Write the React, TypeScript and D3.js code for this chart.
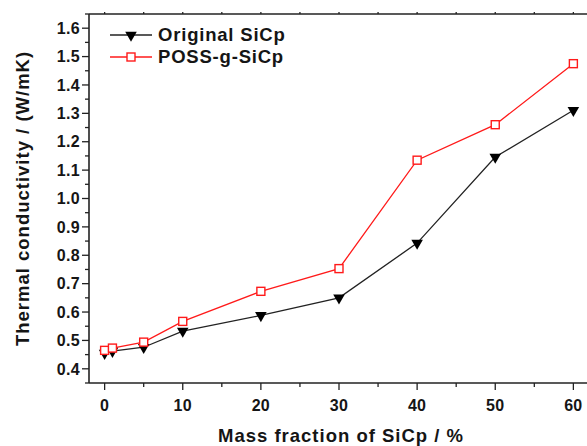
import React from "react";
import * as d3 from "d3";

const xValues = [0, 1, 5, 10, 20, 30, 40, 50, 60];
const originalSiCp = [0.455, 0.462, 0.476, 0.533, 0.588, 0.65, 0.843, 1.146, 1.311];
const possSiCp = [0.465, 0.473, 0.494, 0.567, 0.673, 0.753, 1.135, 1.26, 1.475];
const xTicks = [0, 10, 20, 30, 40, 50, 60];
const yTicks = [0.4, 0.5, 0.6, 0.7, 0.8, 0.9, 1.0, 1.1, 1.2, 1.3, 1.4, 1.5, 1.6];
const seriesNames = ["Original SiCp", "POSS-g-SiCp"];

const W = 587, H = 446;
const left = 89, top = 14, bottom = 383, right = 589;
const font = "Liberation Sans, Arial, sans-serif";
const textColor = "#151515";

export default function App() {
  const x = d3.scaleLinear().domain([-2, 62]).range([left, right]);
  const y = d3.scaleLinear().domain([0.35, 1.65]).range([bottom, top]);
  const line = d3.line<number>().x((_, i) => x(xValues[i])).y((d) => y(d));
  const tri = d3.symbol().type(d3.symbolTriangle).size(58)()!;
  const sq = 8;
  const xMinor = d3.range(0, 61, 5).filter((v) => v % 10 !== 0);
  const yMinor = d3.range(0.35, 1.66, 0.1).map((v) => Math.round(v * 100) / 100);

  return (
    <svg width={W} height={H} style={{ position: "absolute", left: 0, top: 0, background: "#fff" }}>
      {/* axes frame */}
      <g stroke="#222" strokeWidth={1.6} fill="none">
        <line x1={left} x2={left} y1={top} y2={bottom} />
        <line x1={left} x2={right} y1={bottom} y2={bottom} />
        <line x1={left} x2={right} y1={top} y2={top} />
        <line x1={right} x2={right} y1={top} y2={bottom} />
      </g>
      {/* ticks */}
      <g stroke="#222" strokeWidth={1.3}>
        {yTicks.map((t) => (
          <line key={"y" + t} x1={left - 7} x2={left} y1={y(t)} y2={y(t)} />
        ))}
        {yMinor.map((t) => (
          <line key={"ym" + t} x1={left - 4} x2={left} y1={y(t)} y2={y(t)} />
        ))}
        {xTicks.map((t) => (
          <line key={"x" + t} x1={x(t)} x2={x(t)} y1={bottom} y2={bottom + 7} />
        ))}
        {xMinor.map((t) => (
          <line key={"xm" + t} x1={x(t)} x2={x(t)} y1={bottom} y2={bottom + 4} />
        ))}
        {[...xTicks, ...xMinor].map((t) => (
          <line key={"xt" + t} x1={x(t)} x2={x(t)} y1={top} y2={top - 2} />
        ))}
      </g>
      <g fontFamily={font} fontWeight="bold" fontSize={16} fill={textColor} letterSpacing={0.3}>
        {yTicks.map((t) => (
          <text key={"yl" + t} x={left - 9} y={y(t)} dy="0.36em" textAnchor="end">
            {t.toFixed(1)}
          </text>
        ))}
        {xTicks.map((t) => (
          <text key={"xl" + t} x={x(t)} y={411} textAnchor="middle">
            {t}
          </text>
        ))}
      </g>
      <text x={341} y={442} textAnchor="middle" fontFamily={font} fontWeight="bold" fontSize={18.5} letterSpacing={1} fill={textColor}>
        Mass fraction of SiCp / %
      </text>
      <text
        transform={`translate(28.5,${(top + bottom) / 2}) rotate(-90)`}
        textAnchor="middle"
        fontFamily={font}
        fontWeight="bold"
        fontSize={18.5}
        letterSpacing={1}
        fill={textColor}
      >
        Thermal conductivity / (W/mK)
      </text>
      {/* series */}
      <path d={line(originalSiCp)!} fill="none" stroke="#222" strokeWidth={1.3} />
      <path d={line(possSiCp)!} fill="none" stroke="#ff1a1a" strokeWidth={1.3} />
      {originalSiCp.map((v, i) => (
        <path key={"o" + i} d={tri} transform={`translate(${x(xValues[i])},${y(v)}) rotate(180)`} fill="#000" />
      ))}
      {possSiCp.map((v, i) => (
        <rect
          key={"p" + i}
          x={x(xValues[i]) - sq / 2}
          y={y(v) - sq / 2}
          width={sq}
          height={sq}
          fill="#fff"
          stroke="#ff1a1a"
          strokeWidth={1.4}
        />
      ))}
      {/* legend */}
      <g>
        <line x1={110} x2={152} y1={35} y2={35} stroke="#222" strokeWidth={1.3} />
        <path d={tri} transform="translate(131,35) rotate(180)" fill="#000" />
        <line x1={110} x2={152} y1={57} y2={57} stroke="#ff1a1a" strokeWidth={1.3} />
        <rect x={127} y={53} width={8} height={8} fill="#fff" stroke="#ff1a1a" strokeWidth={1.4} />
        <g fontFamily={font} fontWeight="bold" fontSize={18.5} letterSpacing={0.8} fill={textColor}>
          <text x={158} y={41}>{seriesNames[0]}</text>
          <text x={158} y={63}>{seriesNames[1]}</text>
        </g>
      </g>
    </svg>
  );
}
